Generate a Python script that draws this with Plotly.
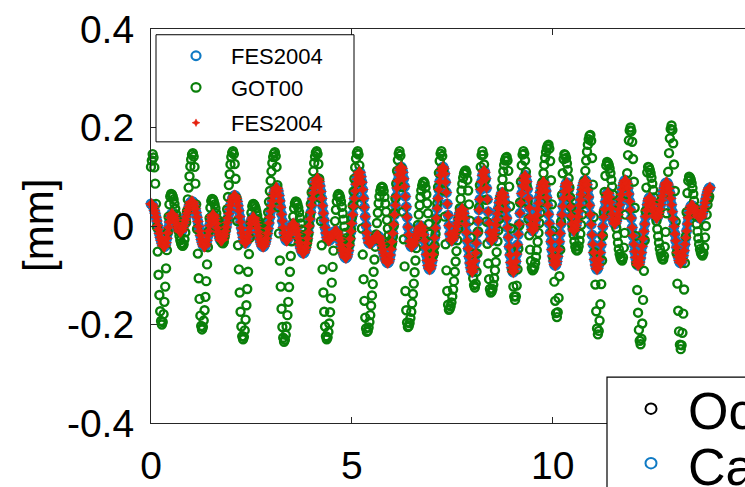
import numpy as np
import plotly.graph_objects as go

# ---------------- data (values in 1e-3 mm, sampled every 30 min) ----------------
SAMPLES_PER_DAY = 48

fes2004 = [
    45, 44, 42, 38, 32, 26, 18, 10, 1, -7, -15, -23, -29, -35, -39, -41, -42,
    -40, -34, -25, -14, -3, 8, 17, 23, 25,
    24, 21, 17, 12, 6, 1, -4, -8, -11, -12,
    -11, -9, -5, 0, 6, 12, 19, 26, 32, 38, 43, 47, 49, 50,
    49, 46, 41, 35, 27, 18, 9, -1, -10, -19, -27, -33, -38, -41, -42,
    -40, -36, -29, -20, -10, 1, 10, 17, 21, 23,
    22, 18, 12, 5, -4, -12, -19, -25, -29, -30,
    -29, -27, -22, -17, -10, -2, 7, 16, 25, 34, 42, 49, 54, 59, 61, 62,
    61, 56, 50, 41, 31, 19, 8, -4, -14, -23, -30, -34, -35,
    -33, -29, -22, -13, -4, 5, 12, 16, 18,
    17, 14, 9, 3, -4, -12, -20, -27, -33, -38, -41, -42,
    -41, -37, -32, -25, -15, -5, 6, 18, 30, 41, 51, 61, 68, 73, 77, 78,
    76, 71, 62, 51, 38, 24, 10, -3, -14, -23, -28, -30,
    -29, -25, -19, -13, -6, 0, 4, 5,
    4, 1, -4, -10, -17, -25, -33, -40, -46, -51, -54, -55,
    -54, -50, -44, -35, -25, -13, 0, 14, 28, 42, 55, 67, 77, 86, 92, 96, 97,
    95, 90, 81, 70, 56, 41, 26, 11, -3, -14, -23, -28, -30,
    -29, -28, -25, -22, -18, -15, -12, -11, -10,
    -11, -14, -18, -24, -30, -38, -45, -51, -57, -61, -64, -65,
    -63, -58, -50, -39, -26, -11, 5, 23, 40, 56, 71, 85, 95, 103, 108, 110,
    108, 100, 89, 74, 56, 38, 19, 1, -14, -25, -33, -35,
    -35, -34, -32, -30, -28, -25, -23, -21, -20, -20,
    -21, -24, -28, -34, -40, -48, -55, -61, -67, -71, -74, -75,
    -73, -68, -59, -47, -32, -15, 3, 23, 42, 60, 77, 92, 104, 113, 118, 120,
    117, 109, 96, 80, 60, 39, 18, -2, -18, -31, -39, -42,
    -41, -39, -36, -32, -26, -21, -16, -11, -6, -3, -1, 0,
    -2, -8, -18, -30, -44, -58, -70, -80, -86, -88,
    -86, -80, -70, -58, -42, -24, -4, 16, 36, 56, 74, 90, 103, 112, 118, 120,
    116, 106, 89, 68, 45, 22, 1, -16, -26, -30,
    -29, -26, -22, -16, -9, -1, 6, 14, 21, 27, 31, 34, 35,
    33, 26, 16, 3, -13, -30, -46, -62, -75, -85, -92, -94,
    -91, -84, -71, -55, -35, -14, 10, 33, 54, 74, 90, 103, 110, 113,
    109, 96, 77, 54, 29, 6, -13, -26, -30,
    -28, -24, -18, -9, 2, 13, 25, 36, 47, 56, 62, 67, 68,
    66, 59, 48, 33, 16, -3, -23, -42, -59, -74, -85, -92, -94,
    -91, -84, -72, -57, -38, -17, 4, 26, 47, 66, 81, 93, 100, 103,
    100, 90, 75, 56, 37, 18, 3, -7, -10,
    -8, -4, 2, 12, 22, 34, 46, 58, 68, 77, 84, 88, 90,
    88, 81, 71, 58, 42, 24, 5, -14, -32, -48, -61, -71, -78, -80,
    -78, -72, -62, -48, -32, -15, 4, 23, 40, 56, 70, 80, 86, 88,
    84, 74, 58, 39, 20, 4, -6, -10,
    -9, -5, 1, 9, 19, 30, 42, 53, 64, 74, 82, 88, 92, 93,
    91, 84, 73, 59, 42, 23, 3, -18, -37, -54, -68, -79, -86, -88,
    -86, -79, -68, -54, -38, -19, -1, 18, 34, 49, 59, 66, 68,
    66, 59, 48, 36, 24, 13, 6, 4,
    5, 9, 15, 23, 33, 43, 54, 64, 74, 82, 88, 92, 93,
    91, 86, 77, 65, 50, 33, 16, -3, -20, -37, -52, -64, -73, -78, -80,
    -78, -73, -65, -54, -41, -26, -11, 4, 19, 32, 43, 51, 56, 58,
    56, 52, 45, 37, 29, 22, 18, 16,
    17, 21, 27, 34, 43, 52, 61, 70, 77, 83, 87, 88,
    87, 83, 76, 67, 56, 43, 29, 14, -1, -16, -30, -43, -54, -63, -70, -74, -75,
    -73, -68, -60, -50, -37, -24, -10, 4, 17, 27, 35, 40, 42,
    41, 40, 37, 33, 29, 25, 21, 19, 17, 16,
    17, 20, 25, 32, 39, 47, 55, 63, 69, 74, 77, 78,
]

got00 = [
    120, 133, 146,
    139, 119, 86, 45, -2, -52, -99, -140, -173, -193, -200,
    -195, -179, -154, -123, -86, -49, -12, 19, 44, 60, 65,
    64, 60, 54, 45, 35, 24, 13, 1, -10, -20, -29, -35, -39, -40,
    -37, -27, -13, 7, 30, 54, 78, 101, 121, 135, 145, 148,
    141, 120, 86, 44, -6, -56, -106, -148, -182, -203, -210,
    -205, -192, -171, -144, -112, -78, -43, -11, 16, 37, 51, 55,
    54, 50, 44, 36, 26, 15, 5, -6, -16, -24, -30, -34, -35,
    -32, -22, -8, 12, 34, 59, 83, 105, 125, 140, 149, 152,
    146, 126, 96, 57, 10, -39, -88, -135, -174, -204, -224, -230,
    -225, -212, -190, -161, -128, -93, -57, -24, 5, 27, 40, 45,
    44, 41, 36, 29, 21, 12, 3, -6, -14, -21, -26, -29, -30,
    -27, -20, -8, 9, 28, 49, 71, 92, 111, 128, 140, 147, 150,
    142, 120, 83, 38, -15, -70, -123, -168, -205, -227, -235,
    -231, -221, -204, -181, -154, -124, -93, -61, -31, -4, 19, 36, 46, 50,
    49, 44, 37, 28, 17, 5, -7, -18, -27, -34, -39, -40,
    -37, -29, -16, 2, 22, 45, 68, 90, 111, 128, 141, 149, 152,
    146, 126, 96, 57, 10, -39, -88, -135, -174, -204, -224, -230,
    -226, -215, -198, -175, -147, -115, -83, -50, -19, 10, 33, 50, 61, 65,
    63, 58, 50, 39, 26, 13, -1, -14, -25, -33, -38, -40,
    -36, -25, -7, 16, 42, 70, 96, 119, 137, 148, 152,
    145, 123, 89, 45, -5, -58, -108, -152, -186, -208, -215,
    -213, -206, -195, -181, -162, -141, -118, -93, -68, -42, -17, 6, 27, 46, 60, 71, 78, 80,
    78, 71, 59, 45, 29, 12, -5, -19, -31, -38, -40,
    -35, -22, 0, 26, 56, 86, 112, 134, 147, 152,
    143, 118, 79, 29, -27, -82, -132, -171, -196, -205,
    -203, -197, -187, -174, -157, -138, -117, -94, -70, -45, -21, 2, 23, 42, 59, 72, 82, 88, 90,
    87, 78, 64, 46, 26, 4, -16, -34, -48, -57, -60,
    -55, -40, -16, 13, 46, 79, 108, 132, 147, 152,
    142, 114, 72, 19, -37, -90, -132, -160, -170,
    -168, -163, -155, -143, -129, -112, -93, -72, -51, -29, -6, 15, 36, 55, 72, 86, 98, 106, 111, 113,
    108, 94, 72, 44, 11, -23, -56, -84, -106, -120, -125,
    -117, -93, -56, -11, 38, 83, 120, 144, 152,
    145, 125, 93, 53, 9, -36, -76, -108, -128, -135,
    -133, -128, -119, -106, -90, -73, -53, -31, -9, 14, 36, 58, 78, 95, 111, 124, 133, 138, 140,
    133, 112, 80, 40, -5, -50, -90, -123, -143, -150,
    -143, -121, -88, -46, 1, 48, 90, 123, 145, 152,
    147, 133, 110, 81, 48, 14, -19, -48, -71, -85, -90,
    -88, -83, -75, -63, -49, -32, -14, 6, 27, 48, 69, 89, 107, 124, 138, 150, 158, 163, 165,
    157, 132, 93, 44, -10, -64, -113, -152, -177, -185,
    -175, -146, -102, -48, 9, 63, 107, 136, 146,
    144, 138, 127, 114, 97, 78, 58, 38, 18, -1, -18, -31, -42, -48, -50,
    -48, -41, -30, -16, 2, 23, 45, 68, 91, 112, 133, 151, 165, 176, 183, 185,
    173, 138, 84, 18, -53, -119, -173, -208, -220,
    -213, -192, -159, -118, -70, -20, 28, 69, 102, 123, 130,
    128, 124, 117, 107, 94, 80, 64, 47, 30, 13, -4, -20, -34, -47, -57, -64, -68, -70,
    -64, -44, -14, 23, 65, 107, 144, 174, 194, 200,
    193, 171, 136, 90, 37, -20, -77, -130, -176, -211, -233, -240,
    -229, -198, -150, -91, -29, 30, 78, 109, 120,
    119, 114, 107, 98, 86, 73, 58, 42, 26, 10, -6, -21, -34, -46, -55, -62, -67, -68,
    -61, -42, -12, 26, 68, 110, 148, 178, 197, 204,
    195, 168, 125, 71, 9, -55, -117, -172, -214, -241, -250,
    -242, -217, -178, -129, -75, -21, 28, 67, 92, 100,
    98, 94, 87, 77, 65, 51, 36, 20, 4, -11, -25, -37, -47, -54, -58, -60,
    -55, -43, -23, 0, 23, 43, 55, 60,
]

x_tick_vals = [0, 5, 10, 15]
x_tick_text = ["0", "5", "10", "15"]
y_tick_vals = [-0.4, -0.2, 0, 0.2, 0.4]
y_tick_text = ["-0.4", "-0.2", "0", "0.2", "0.4"]
y_title = "[mm]"
legend1_labels = ["FES2004", "GOT00", "FES2004"]
legend2_labels = ["Ocean loading", "Calculated"]

# ---------------- derived series ----------------
fes_mm = np.array(fes2004) / 1000.0
got_mm = np.array(got00) / 1000.0
t_fes = np.arange(len(fes_mm)) / SAMPLES_PER_DAY
t_got = np.arange(len(got_mm)) / SAMPLES_PER_DAY

# ---------------- styling ----------------
W, H = 745, 487
L, R, T, B = 151, 0, 29, 46
PW, PH = W - L - R, H - T - B
X_MAX = PW / 40.17

BLUE = "#0F7AC4"
GREEN = "#0A7F0A"
RED = "#E5210E"
AXIS = "#262626"
FONT = "Liberation Sans, Arial, sans-serif"


def px(xp):
    return (xp - L) / PW


def py(yp):
    return (H - B - yp) / PH


fig = go.Figure()
fig.add_trace(go.Scatter(
    x=t_fes, y=fes_mm, mode="markers", name=legend1_labels[0], showlegend=False,
    marker=dict(symbol="circle-open", size=8, color=BLUE, line=dict(width=2.8, color=BLUE)),
    cliponaxis=False))
fig.add_trace(go.Scatter(
    x=t_got, y=got_mm, mode="markers", name=legend1_labels[1], showlegend=False,
    marker=dict(symbol="circle-open", size=8, color=GREEN, line=dict(width=2.4, color=GREEN)),
    cliponaxis=False))
fig.add_trace(go.Scatter(
    x=t_fes, y=fes_mm, mode="markers", name=legend1_labels[2], showlegend=False,
    marker=dict(symbol="star-diamond", size=9, color=RED, line=dict(width=0)),
    cliponaxis=False))

shapes = []
annotations = []

# legend 1 (top-left)
shapes.append(dict(type="rect", xref="paper", yref="paper", x0=px(156), x1=px(354),
                   y0=py(147), y1=py(35), line=dict(color="black", width=1),
                   fillcolor="white", layer="above"))
rows = [57, 90, 127]
r = 4.5
for yy, col in zip(rows[:2], [BLUE, GREEN]):
    shapes.append(dict(type="circle", xref="paper", yref="paper",
                       x0=px(196 - r), x1=px(196 + r), y0=py(yy + r), y1=py(yy - r),
                       line=dict(color=col, width=2.2), layer="above"))
cx, cy, s = 196, rows[2], 4
shapes.append(dict(type="path", xref="paper", yref="paper",
                   path=(f"M {px(cx)} {py(cy - s)} L {px(cx + 1.3)} {py(cy - 1.3)} L {px(cx + s)} {py(cy)} "
                         f"L {px(cx + 1.3)} {py(cy + 1.3)} L {px(cx)} {py(cy + s)} L {px(cx - 1.3)} {py(cy + 1.3)} "
                         f"L {px(cx - s)} {py(cy)} L {px(cx - 1.3)} {py(cy - 1.3)} Z"),
                   fillcolor=RED, line=dict(color=RED, width=0.5), layer="above"))
for yy, lab in zip(rows, legend1_labels):
    annotations.append(dict(xref="paper", yref="paper", x=px(229), y=py(yy + 1), text=lab,
                            showarrow=False, xanchor="left", yanchor="middle",
                            font=dict(family=FONT, size=22, color="black")))

# legend 2 (bottom-right, partly outside the picture as in the reference)
shapes.append(dict(type="rect", xref="paper", yref="paper", x0=px(607), x1=px(1000),
                   y0=py(700), y1=py(393), line=dict(color="black", width=1.2),
                   fillcolor="white", layer="above"))
r2 = 5.5
for yy, col in zip([426, 483], ["black", BLUE]):
    shapes.append(dict(type="circle", xref="paper", yref="paper",
                       x0=px(651 - r2), x1=px(651 + r2), y0=py(yy + r2), y1=py(yy - r2),
                       line=dict(color=col, width=2), layer="above"))
for yy, lab in zip([428, 487], legend2_labels):
    annotations.append(dict(xref="paper", yref="paper", x=px(686), y=py(yy), text=lab,
                            showarrow=False, xanchor="left", yanchor="middle",
                            font=dict(family=FONT, size=52, color="black")))

# y-axis title
annotations.append(dict(xref="paper", yref="paper", x=px(38), y=py(235), text=y_title,
                        textangle=-90, showarrow=False, xanchor="center", yanchor="middle",
                        font=dict(family=FONT, size=42, color="black")))

fig.update_layout(
    width=W, height=H,
    margin=dict(l=L, r=R, t=T, b=B, pad=0),
    paper_bgcolor="white", plot_bgcolor="white",
    showlegend=False,
    shapes=shapes, annotations=annotations,
    font=dict(family=FONT, color="black"),
)
fig.update_xaxes(
    range=[0, X_MAX], tickvals=x_tick_vals, ticktext=x_tick_text,
    showline=True, linecolor=AXIS, linewidth=1.2, mirror="ticks",
    ticks="inside", ticklen=6, tickcolor=AXIS, tickwidth=1,
    showgrid=False, zeroline=False, ticklabelstandoff=8,
    tickfont=dict(family=FONT, size=39, color="black"),
)
fig.update_yaxes(
    range=[-0.4, 0.4], tickvals=y_tick_vals, ticktext=y_tick_text,
    showline=True, linecolor=AXIS, linewidth=1.2, mirror=False,
    ticks="inside", ticklen=6, tickcolor=AXIS, tickwidth=1,
    showgrid=False, zeroline=False, ticklabelstandoff=8,
    tickfont=dict(family=FONT, size=39, color="black"),
)

fig.write_html("out.html")
